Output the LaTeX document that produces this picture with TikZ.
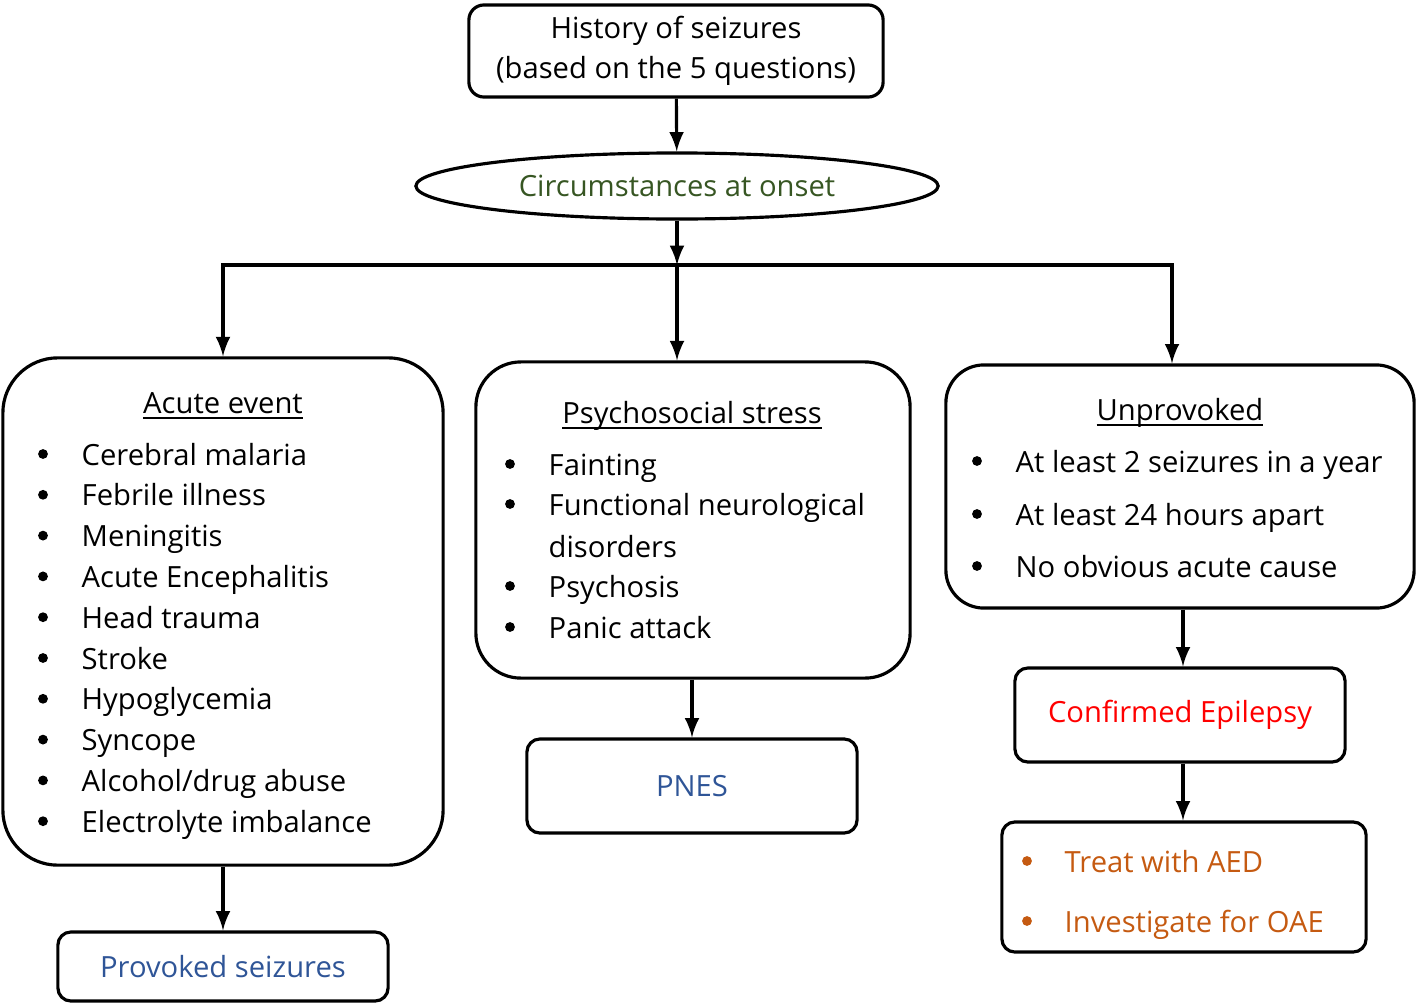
\documentclass[tikz,border=0pt]{standalone}
\usepackage{fontspec}
\setmainfont{Open Sans}
\usepackage{xcolor}
\usetikzlibrary{positioning,arrows,shapes.geometric}
\definecolor{onsetgreen}{HTML}{375623}
\definecolor{outblue}{HTML}{2F5597}
\definecolor{treatorange}{HTML}{C55A11}
\tikzset{%
box/.style={draw,rectangle,line width=0.9pt,rounded corners=#1,inner sep=0pt},
box/.default=1.3mm,
oval/.style={draw,ellipse,line width=0.9pt,inner sep=0pt},
heading/.style={anchor=base,inner sep=0pt},
entry/.style={anchor=base west,inner sep=0pt},
dot/.style={circle,fill,inner sep=0pt,minimum size=0.098cm,yshift=0.11cm},
flow/.style={->,>=latex,line width=0.9pt}
}

\begin{document}
\begin{tikzpicture}[x=0.01cm,y=-0.01cm,font=\fontsize{8.3}{11.4}\selectfont]

    \useasboundingbox (0,0) rectangle (1418,1006);

    % top of the chart
    \node[box=1.5mm,minimum width=4.14cm,minimum height=0.92cm,align=center] (hist) at (676,51)
        {History of seizures\\(based on the 5 questions)};
    \node[oval,minimum width=5.22cm,minimum height=0.66cm,text=onsetgreen] (circ) at (677,186)
        {Circumstances at onset};
    \coordinate (split) at (677,265);

    % the three groups
    \node[box=5.5mm,minimum width=4.40cm,minimum height=5.07cm] (acute) at (223,611.5) {};
    \node[box=4.5mm,minimum width=4.34cm,minimum height=3.16cm] (psych) at (693,520) {};
    \node[box=3.8mm,minimum width=4.68cm,minimum height=2.43cm] (unprov) at (1180,486.5) {};

    \node[heading] (acutehead) at (223,413) {\underline{\smash{Acute event}}};
    \node[heading] (psychhead) at (692,423) {\underline{\smash{Psychosocial stress}}};
    \node[heading] (unprovhead) at (1180,420) {\underline{\smash{Unprovoked}}};

    \foreach \txt [count=\i from 0] in {Cerebral malaria,Febrile illness,Meningitis,
        Acute Encephalitis,Head trauma,Stroke,Hypoglycemia,Syncope,
        Alcohol/drug abuse,Electrolyte imbalance} {
      \node[dot] (acutedot\i) at (43,{465+40.8*\i}) {};
      \node[entry] (acuteitem\i) at (81,{465+40.8*\i}) {\txt};
    }

    \foreach \y/\txt [count=\i] in {475/Fainting,515/Functional neurological,
        597/Psychosis,638/Panic attack} {
      \node[dot] (psychdot\i) at (510,\y) {};
      \node[entry] (psychitem\i) at (548,\y) {\txt};
    }
    \node[entry] (psychmore) at (548,557) {disorders};

    \foreach \y/\txt [count=\i] in {472/At least 2 seizures in a year,
        525/At least 24 hours apart,577/No obvious acute cause} {
      \node[dot] (unprovdot\i) at (977,\y) {};
      \node[entry] (unprovitem\i) at (1015,\y) {\txt};
    }

    % outcomes
    \node[box,minimum width=3.30cm,minimum height=0.69cm,text=outblue] (provoked) at (223,966.5)
        {Provoked seizures};
    \node[box,minimum width=3.30cm,minimum height=0.94cm,text=outblue] (pnes) at (692,786) {PNES};
    \node[box,minimum width=3.30cm,minimum height=0.94cm,text=red] (confirmed) at (1180,715)
        {Confirmed Epilepsy};
    \node[box,minimum width=3.64cm,minimum height=1.30cm] (treat) at (1184,887) {};

    \foreach \y/\txt [count=\i] in {872/Treat with AED,932/Investigate for OAE} {
      \node[dot,fill=treatorange] (treatdot\i) at (1027,\y) {};
      \node[entry,text=treatorange] (treatitem\i) at (1064,\y) {\txt};
    }

    \draw[flow] (hist) -- (circ);
    \draw[flow] (circ) -- (split);
    \draw[flow] (split) -| (acute.north);
    \draw[flow] (split) -- (split |- psych.north);
    \draw[flow] (split) -| ([xshift=-0.08cm]unprov.north);
    \draw[flow] (acute) -- (provoked);
    \draw[flow] (pnes.north |- psych.south) -- (pnes.north);
    \draw[flow] ([xshift=0.03cm]unprov.south) -- ([xshift=0.03cm]confirmed.north);
    \draw[flow] ([xshift=0.03cm]confirmed.south) -- ([xshift=0.03cm]confirmed.south |- treat.north);

  \end{tikzpicture}
\end{document}
